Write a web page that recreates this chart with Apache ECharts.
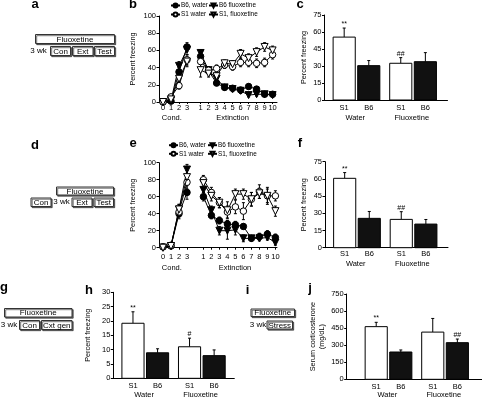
<!DOCTYPE html>
<html><head><meta charset="utf-8">
<script src="https://cdn.jsdelivr.net/npm/echarts@6/dist/echarts.min.js"></script>
<style>html,body{margin:0;padding:0;background:#fff}#c{width:482px;height:403px}</style>
</head><body><div id="c"></div>
<script>
const FONT = '"Liberation Sans", Arial, sans-serif';

// ---------------- DATA ----------------
const seriesNames = ['B6, water', 'B6 fluoxetine', 'S1 water', 'S1, fluoxetine'];
const condTickLabels = ['0', '1', '2', '3'];
const extTickLabels = ['1', '2', '3', '4', '5', '6', '7', '8', '9', '10'];
const phaseLabels = ['Cond.', 'Extinction'];
const lineYTicks = [0, 20, 40, 60, 80, 100];

// panel b (percent freezing)
const bB6WaterCond = [0, 1, 35, 64];
const bB6WaterExt = [53, 36, 22, 17, 16, 14, 18, 15, 9, 9];
const bB6WaterCondErr = [1, 1, 5, 5];
const bB6WaterExtErr = [4, 3, 3, 2, 2, 2, 3, 3, 2, 3];
const bB6FluoxCond = [0, 2, 42, 61];
const bB6FluoxExt = [57, 37, 27, 17, 15, 13, 8, 9, 9, 8];
const bB6FluoxCondErr = [1, 1, 5, 6];
const bB6FluoxExtErr = [4, 4, 3, 3, 3, 3, 2, 2, 2, 2];
const bS1WaterCond = [0, 6, 19, 49];
const bS1WaterExt = [47, 37, 39, 43, 41, 46, 46, 45, 46, 55];
const bS1WaterCondErr = [1, 2, 4, 6];
const bS1WaterExtErr = [6, 4, 4, 4, 4, 5, 5, 5, 5, 5];
const bS1FluoxCond = [0, 3, 27, 47];
const bS1FluoxExt = [37, 33, 30, 45, 44, 56, 51, 58, 64, 60];
const bS1FluoxCondErr = [1, 1, 5, 6];
const bS1FluoxExtErr = [8, 4, 4, 4, 4, 5, 5, 5, 5, 5];

// panel e (percent freezing)
const eB6WaterCond = [1, 2, 40, 65];
const eB6WaterExt = [60, 38, 32, 28, 27, 25, 11, 13, 16, 12];
const eB6WaterCondErr = [1, 1, 6, 8];
const eB6WaterExtErr = [5, 4, 4, 4, 4, 3, 3, 4, 4, 4];
const eB6FluoxCond = [0, 2, 45, 92];
const eB6FluoxExt = [68, 44, 20, 20, 21, 11, 11, 11, 12, 6];
const eB6FluoxCondErr = [1, 1, 6, 6];
const eB6FluoxExtErr = [6, 5, 5, 10, 6, 4, 3, 3, 3, 3];
const eS1WaterCond = [1, 3, 42, 77];
const eS1WaterExt = [80, 65, 53, 42, 48, 43, 57, 66, 61, 61];
const eS1WaterCondErr = [1, 1, 6, 8];
const eS1WaterExtErr = [5, 6, 6, 7, 8, 10, 8, 8, 10, 6];
const eS1FluoxCond = [0, 2, 45, 83];
const eS1FluoxExt = [76, 61, 53, 44, 63, 63, 57, 64, 61, 43];
const eS1FluoxCondErr = [1, 1, 6, 8];
const eS1FluoxExtErr = [6, 6, 6, 10, 6, 6, 8, 6, 8, 6];

// bar panels
const barCategories = ['S1', 'B6', 'S1', 'B6'];
const groupLabels = ['Water', 'Fluoxetine'];
const cValues = [55.5, 30.3, 32.4, 33.8];
const cErrors = [8, 4.5, 5, 8];
const cMarks = ['**', '', '##', ''];
const fValues = [60.5, 25.6, 24.7, 20.6];
const fErrors = [5, 6, 6.7, 4];
const fMarks = ['**', '', '##', ''];
const hValues = [19.2, 8.9, 11.0, 7.9];
const hErrors = [4, 1.4, 3, 2];
const hMarks = ['**', '', '#', ''];
const jValues = [463, 240, 415, 322];
const jErrors = [38, 18, 120, 32];
const jMarks = ['**', '', '', '##'];
const freezeTicks75 = [0, 15, 30, 45, 60, 75];
const freezeTicks30 = [0, 5, 10, 15, 20, 25, 30];
const cortTicks = [0, 150, 300, 450, 600, 750];

// ---------------- LAYOUT ----------------
const grids = [
  {left: 159, top: 16, width: 118, height: 86},      // 0 b
  {left: 159, top: 162.7, width: 118, height: 85},   // 1 e
  {left: 324.5, top: 15, width: 123, height: 85},    // 2 c
  {left: 325, top: 161.7, width: 123, height: 86},   // 3 f
  {left: 113.3, top: 292.3, width: 121, height: 86}, // 4 h
  {left: 346.7, top: 294, width: 135, height: 85.3}  // 5 j
];
const barSlots = [0.8, 1.8, 3.1, 4.1];
const groupSlots = [1.25, 3.55];
const BAR_W = 0.9;

const xAxes = [], yAxes = [], series = [], legends = [];
const txt = (size) => ({fontSize: size, fontFamily: FONT, color: '#000'});

function yAxis(gi, ticks, name, gap) {
  yAxes.push({
    gridIndex: gi, type: 'value', min: ticks[0], max: ticks[ticks.length - 1],
    interval: ticks[1] - ticks[0],
    name: name, nameLocation: 'middle', nameGap: gap, nameRotate: 90,
    nameTextStyle: Object.assign(txt(7.3), {lineHeight: 9}),
    axisLine: {show: true, onZero: false, lineStyle: {color: '#000', width: 1}},
    axisTick: {show: true, length: 2.5, lineStyle: {color: '#000'}},
    axisLabel: Object.assign(txt(7.5), {margin: 3}),
    splitLine: {show: false}
  });
}
function lookup(positions, labels) {
  return (v) => {
    for (let i = 0; i < positions.length; i++) if (Math.abs(positions[i] - v) < 1e-6) return labels[i];
    return '';
  };
}
function xAxisPair(gi, min, max, tickPos, tickLabels, ticksOn, margin, grpPos, grpLabels, grpOffset) {
  xAxes.push({
    gridIndex: gi, type: 'value', min: min, max: max,
    axisLine: {show: true, onZero: false, lineStyle: {color: '#000', width: 1}},
    axisTick: {show: ticksOn, customValues: tickPos, length: 2, lineStyle: {color: '#000'}},
    axisLabel: Object.assign(txt(7.5), {customValues: tickPos, margin: margin, formatter: lookup(tickPos, tickLabels)}),
    splitLine: {show: false}
  });
  xAxes.push({
    gridIndex: gi, type: 'value', min: min, max: max, position: 'bottom', offset: grpOffset,
    axisLine: {show: false}, axisTick: {show: false},
    axisLabel: Object.assign(txt(7.5), {customValues: grpPos, margin: 3, formatter: lookup(grpPos, grpLabels)}),
    splitLine: {show: false}
  });
  return xAxes.length - 2;
}

// ---------- line panels ----------
const styles = [
  {symbol: 'circle', rot: 0, size: 6.5, fill: '#000'},
  {symbol: 'triangle', rot: 180, size: 7, fill: '#000'},
  {symbol: 'circle', rot: 0, size: 6.5, fill: '#fff'},
  {symbol: 'triangle', rot: 180, size: 7, fill: '#fff'}
];
function linePanel(gi, extOffset, groups, margin, grpOffset, grpPos) {
  const condPos = condTickLabels.map((_, i) => i);
  const extPos = extTickLabels.map((_, i) => extOffset + i);
  const xi = xAxisPair(gi, -0.5, 14.25, condPos.concat(extPos), condTickLabels.concat(extTickLabels), true,
    margin, grpPos, phaseLabels, grpOffset);
  yAxis(gi, lineYTicks, 'Percent freezing', 22);
  const yi = yAxes.length - 1;
  groups.forEach((g, k) => {
    const st = styles[k];
    const pts = [g.cond.map((v, i) => [condPos[i], v]), g.ext.map((v, i) => [extPos[i], v])];
    const errs = g.condErr.concat(g.extErr);
    const allPts = pts[0].concat(pts[1]);
    series.push({
      type: 'custom', xAxisIndex: xi, yAxisIndex: yi, z: 1, silent: true,
      data: allPts.map((p, i) => [p[0], p[1], errs[i]]),
      renderItem: (params, api) => {
        const x = api.value(0), v = api.value(1), e = api.value(2);
        const a = api.coord([x, v - e]), b = api.coord([x, v + e]);
        const ch = [{type: 'line', shape: {x1: a[0], y1: a[1], x2: b[0], y2: b[1]}, style: {stroke: '#000', lineWidth: 1}}];
        if (e > 1.5) {
          ch.push({type: 'line', shape: {x1: b[0] - 1.5, y1: b[1], x2: b[0] + 1.5, y2: b[1]}, style: {stroke: '#000', lineWidth: 1}});
          ch.push({type: 'line', shape: {x1: a[0] - 1.5, y1: a[1], x2: a[0] + 1.5, y2: a[1]}, style: {stroke: '#000', lineWidth: 1}});
        }
        return {type: 'group', children: ch};
      }
    });
    pts.forEach((d) => {
      series.push({
        type: 'line', name: seriesNames[k], xAxisIndex: xi, yAxisIndex: yi, z: 2 + k,
        data: d, symbol: st.symbol, symbolRotate: st.rot, symbolSize: st.size, showAllSymbol: true,
        lineStyle: {color: '#000', width: 1},
        itemStyle: {color: st.fill, borderColor: '#000', borderWidth: 1},
        emphasis: {disabled: true}
      });
    });
  });
}
function legendBlock(left1, left2, top1, top2) {
  const pos = [[left1, top1], [left2, top1], [left1, top2], [left2, top2]];
  seriesNames.forEach((n, i) => legends.push({
    data: [n], left: pos[i][0], top: pos[i][1], padding: 0, itemWidth: 9, itemHeight: 5,
    selectedMode: false, textStyle: Object.assign(txt(6.4), {padding: [0, 0, 0, -4]})
  }));
}

linePanel(0, 4.7, [
  {cond: bB6WaterCond, ext: bB6WaterExt, condErr: bB6WaterCondErr, extErr: bB6WaterExtErr},
  {cond: bB6FluoxCond, ext: bB6FluoxExt, condErr: bB6FluoxCondErr, extErr: bB6FluoxExtErr},
  {cond: bS1WaterCond, ext: bS1WaterExt, condErr: bS1WaterCondErr, extErr: bS1WaterExtErr},
  {cond: bS1FluoxCond, ext: bS1FluoxExt, condErr: bS1FluoxCondErr, extErr: bS1FluoxExtErr}
], 2, 9, [1.1, 8.7]);
linePanel(1, 5.05, [
  {cond: eB6WaterCond, ext: eB6WaterExt, condErr: eB6WaterCondErr, extErr: eB6WaterExtErr},
  {cond: eB6FluoxCond, ext: eB6FluoxExt, condErr: eB6FluoxCondErr, extErr: eB6FluoxExtErr},
  {cond: eS1WaterCond, ext: eS1WaterExt, condErr: eS1WaterCondErr, extErr: eS1WaterExtErr},
  {cond: eS1FluoxCond, ext: eS1FluoxExt, condErr: eS1FluoxCondErr, extErr: eS1FluoxExtErr}
], 5, 13, [1.1, 9.0]);
legendBlock(170, 208, 2.5, 11.5);
legendBlock(168, 207, 142.2, 150.8);

// ---------- bar panels ----------
function barPanel(gi, min, max, values, errors, marks, ticks, yName, nameGap, margin, grpOffset) {
  const xi = xAxisPair(gi, min, max, barSlots, barCategories, false, margin, groupSlots, groupLabels, grpOffset);
  yAxis(gi, ticks, yName, nameGap);
  const yi = yAxes.length - 1;
  series.push({
    type: 'custom', xAxisIndex: xi, yAxisIndex: yi, silent: true,
    data: values.map((v, i) => [barSlots[i], v, errors[i]]),
    renderItem: (params, api) => {
      const x = api.value(0), v = api.value(1), e = api.value(2);
      const p0 = api.coord([x, 0]), p1 = api.coord([x, v]), pe = api.coord([x, v + e]);
      const w = api.size([BAR_W, 0])[0];
      const fill = params.dataIndex % 2 === 0 ? '#fff' : '#111';
      const ch = [
        {type: 'line', shape: {x1: p1[0], y1: p1[1], x2: pe[0], y2: pe[1]}, style: {stroke: '#000', lineWidth: 1}},
        {type: 'line', shape: {x1: pe[0] - 1.5, y1: pe[1], x2: pe[0] + 1.5, y2: pe[1]}, style: {stroke: '#000', lineWidth: 1}},
        {type: 'rect', shape: {x: p1[0] - w / 2, y: p1[1], width: w, height: p0[1] - p1[1]},
          style: {fill: fill, stroke: '#000', lineWidth: 1}}
      ];
      const m = marks[params.dataIndex];
      if (m) ch.push({type: 'text', x: pe[0], y: pe[1] - 0.5,
        style: {text: m, fill: '#000', font: '7px ' + FONT, align: 'center', verticalAlign: 'bottom',
          textAlign: 'center', textVerticalAlign: 'bottom'}});
      return {type: 'group', children: ch};
    }
  });
}
barPanel(2, 0, 5.0, cValues, cErrors, cMarks, freezeTicks75, 'Percent freezing', 16.5, 3.5, 11);
barPanel(3, 0, 5.0, fValues, fErrors, fMarks, freezeTicks75, 'Percent freezing', 17, 2, 9.5);
barPanel(4, 0, 4.92, hValues, hErrors, hMarks, freezeTicks30, 'Percent freezing', 21, 4, 10);
barPanel(5, -0.4, 5.09, jValues, jErrors, jMarks, cortTicks, 'Serum corticosterone\n(mg/dL)', 20, 3.5, 9);

// ---------- graphics: panel letters & schematics ----------
const graphics = [];
function letter(t, x, y) {
  graphics.push({type: 'text', x: x, y: y, style: {text: t, fill: '#000', font: 'bold 13px ' + FONT,
    align: 'center', verticalAlign: 'middle', textAlign: 'center', textVerticalAlign: 'middle'}});
}
function label(t, x, y) {
  graphics.push({type: 'text', x: x, y: y, style: {text: t, fill: '#000', font: '8px ' + FONT,
    align: 'center', verticalAlign: 'middle', textAlign: 'center', textVerticalAlign: 'middle'}});
}
function box(t, x0, x1, y0, y1) {
  graphics.push({type: 'rect', shape: {x: x0 + 0.5, y: y0 + 0.5, width: x1 - x0, height: y1 - y0},
    style: {fill: '#fff', stroke: '#333', lineWidth: 1, shadowColor: 'rgba(0,0,0,0.55)', shadowOffsetX: 1.2, shadowOffsetY: 1.2, shadowBlur: 0}});
  label(t, (x0 + x1) / 2 + 0.5, (y0 + y1) / 2 + 0.8);
}
letter('a', 35, 4); letter('b', 133, 4); letter('c', 300, 4);
letter('d', 35, 145); letter('e', 133, 143); letter('f', 300, 143);
letter('g', 4, 287); letter('h', 89, 290); letter('i', 247.5, 290); letter('j', 310, 288);

box('Fluoxetine', 35, 114, 34, 43);
label('3 wk', 38.5, 51);
box('Con', 50, 70, 46, 55); box('Ext', 72, 92.5, 46, 55); box('Test', 94, 114, 46, 55);

box('Fluoxetine', 56, 113, 186.5, 194.5);
box('Con', 30.5, 50.5, 197.5, 206);
label('3 wk', 61.5, 202);
box('Ext', 71.5, 91.5, 197.5, 206); box('Test', 93.5, 113, 197.5, 206);

box('Fluoxetine', 4, 71.5, 308, 316.5);
label('3 wk', 9, 324.5);
box('Con', 19, 39, 320, 329); box('Cxt gen', 41, 71.5, 320, 329);

box('Fluoxetine', 250.5, 294, 308.5, 316);
label('3 wk', 258, 324.5);
box('Stress', 266.5, 292, 320.5, 328.5);

const chart = echarts.init(document.getElementById('c'), null, {renderer: 'canvas'});
chart.setOption({
  animation: false,
  backgroundColor: '#fff',
  textStyle: {fontFamily: FONT},
  grid: grids.map(g => Object.assign({containLabel: false}, g)),
  xAxis: xAxes, yAxis: yAxes, legend: legends, series: series, graphic: {elements: graphics}
});
</script></body></html>
